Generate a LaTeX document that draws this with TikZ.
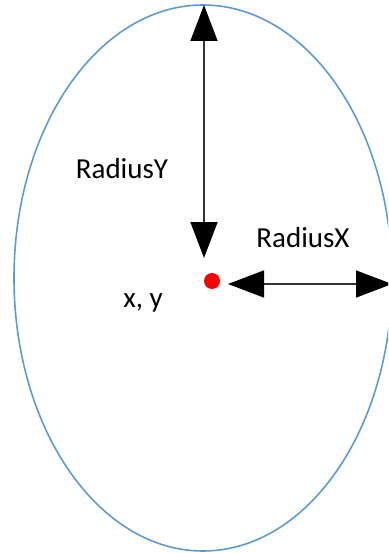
\documentclass[tikz,border=0pt]{standalone}
\usepackage{fontspec}
\setmainfont{Carlito}
\usetikzlibrary{arrows.meta, positioning, shapes.geometric}
\definecolor{outline}{HTML}{5B9BD5}
\definecolor{shaft}{HTML}{333333}
\definecolor{centre}{HTML}{FF0000}

\begin{document}
\begin{tikzpicture}[x=1pt, y=-1pt, line width=1.5pt,
  radarrow/.style={shaft, {Triangle[length=36pt, width=27pt, color=black]}-{Triangle[length=36pt, width=27pt, color=black]}},
  lbl/.style={font=\fontsize{29}{32}\selectfont, text=black, inner sep=0pt}]

% Frame
\clip (0,0) rectangle (388,553);

% Outline of the ellipse
\node[draw=outline, ellipse, line width=1.6pt, minimum width=378pt, minimum height=546pt, inner sep=0pt] (oval) at (203,278) {};

% Centre point
\node[circle, fill=centre, minimum size=16pt, inner sep=0pt] (ctr) at (212,281) {};

% Arrow ends
\coordinate (ytop) at (204,5);
\coordinate (ybot) at (204,258);
\coordinate (xleft) at (228,284);
\coordinate (xright) at (392,284);

\draw[radarrow] (ytop) -- (ybot);
\draw[radarrow] (xleft) -- (xright);

% Labels
\node[lbl] (rady) at (122,169) {RadiusY};
\node[lbl] (radx) at (303,238) {RadiusX};
\node[lbl] (xy) at (143,303) {x, y};

\end{tikzpicture}
\end{document}
